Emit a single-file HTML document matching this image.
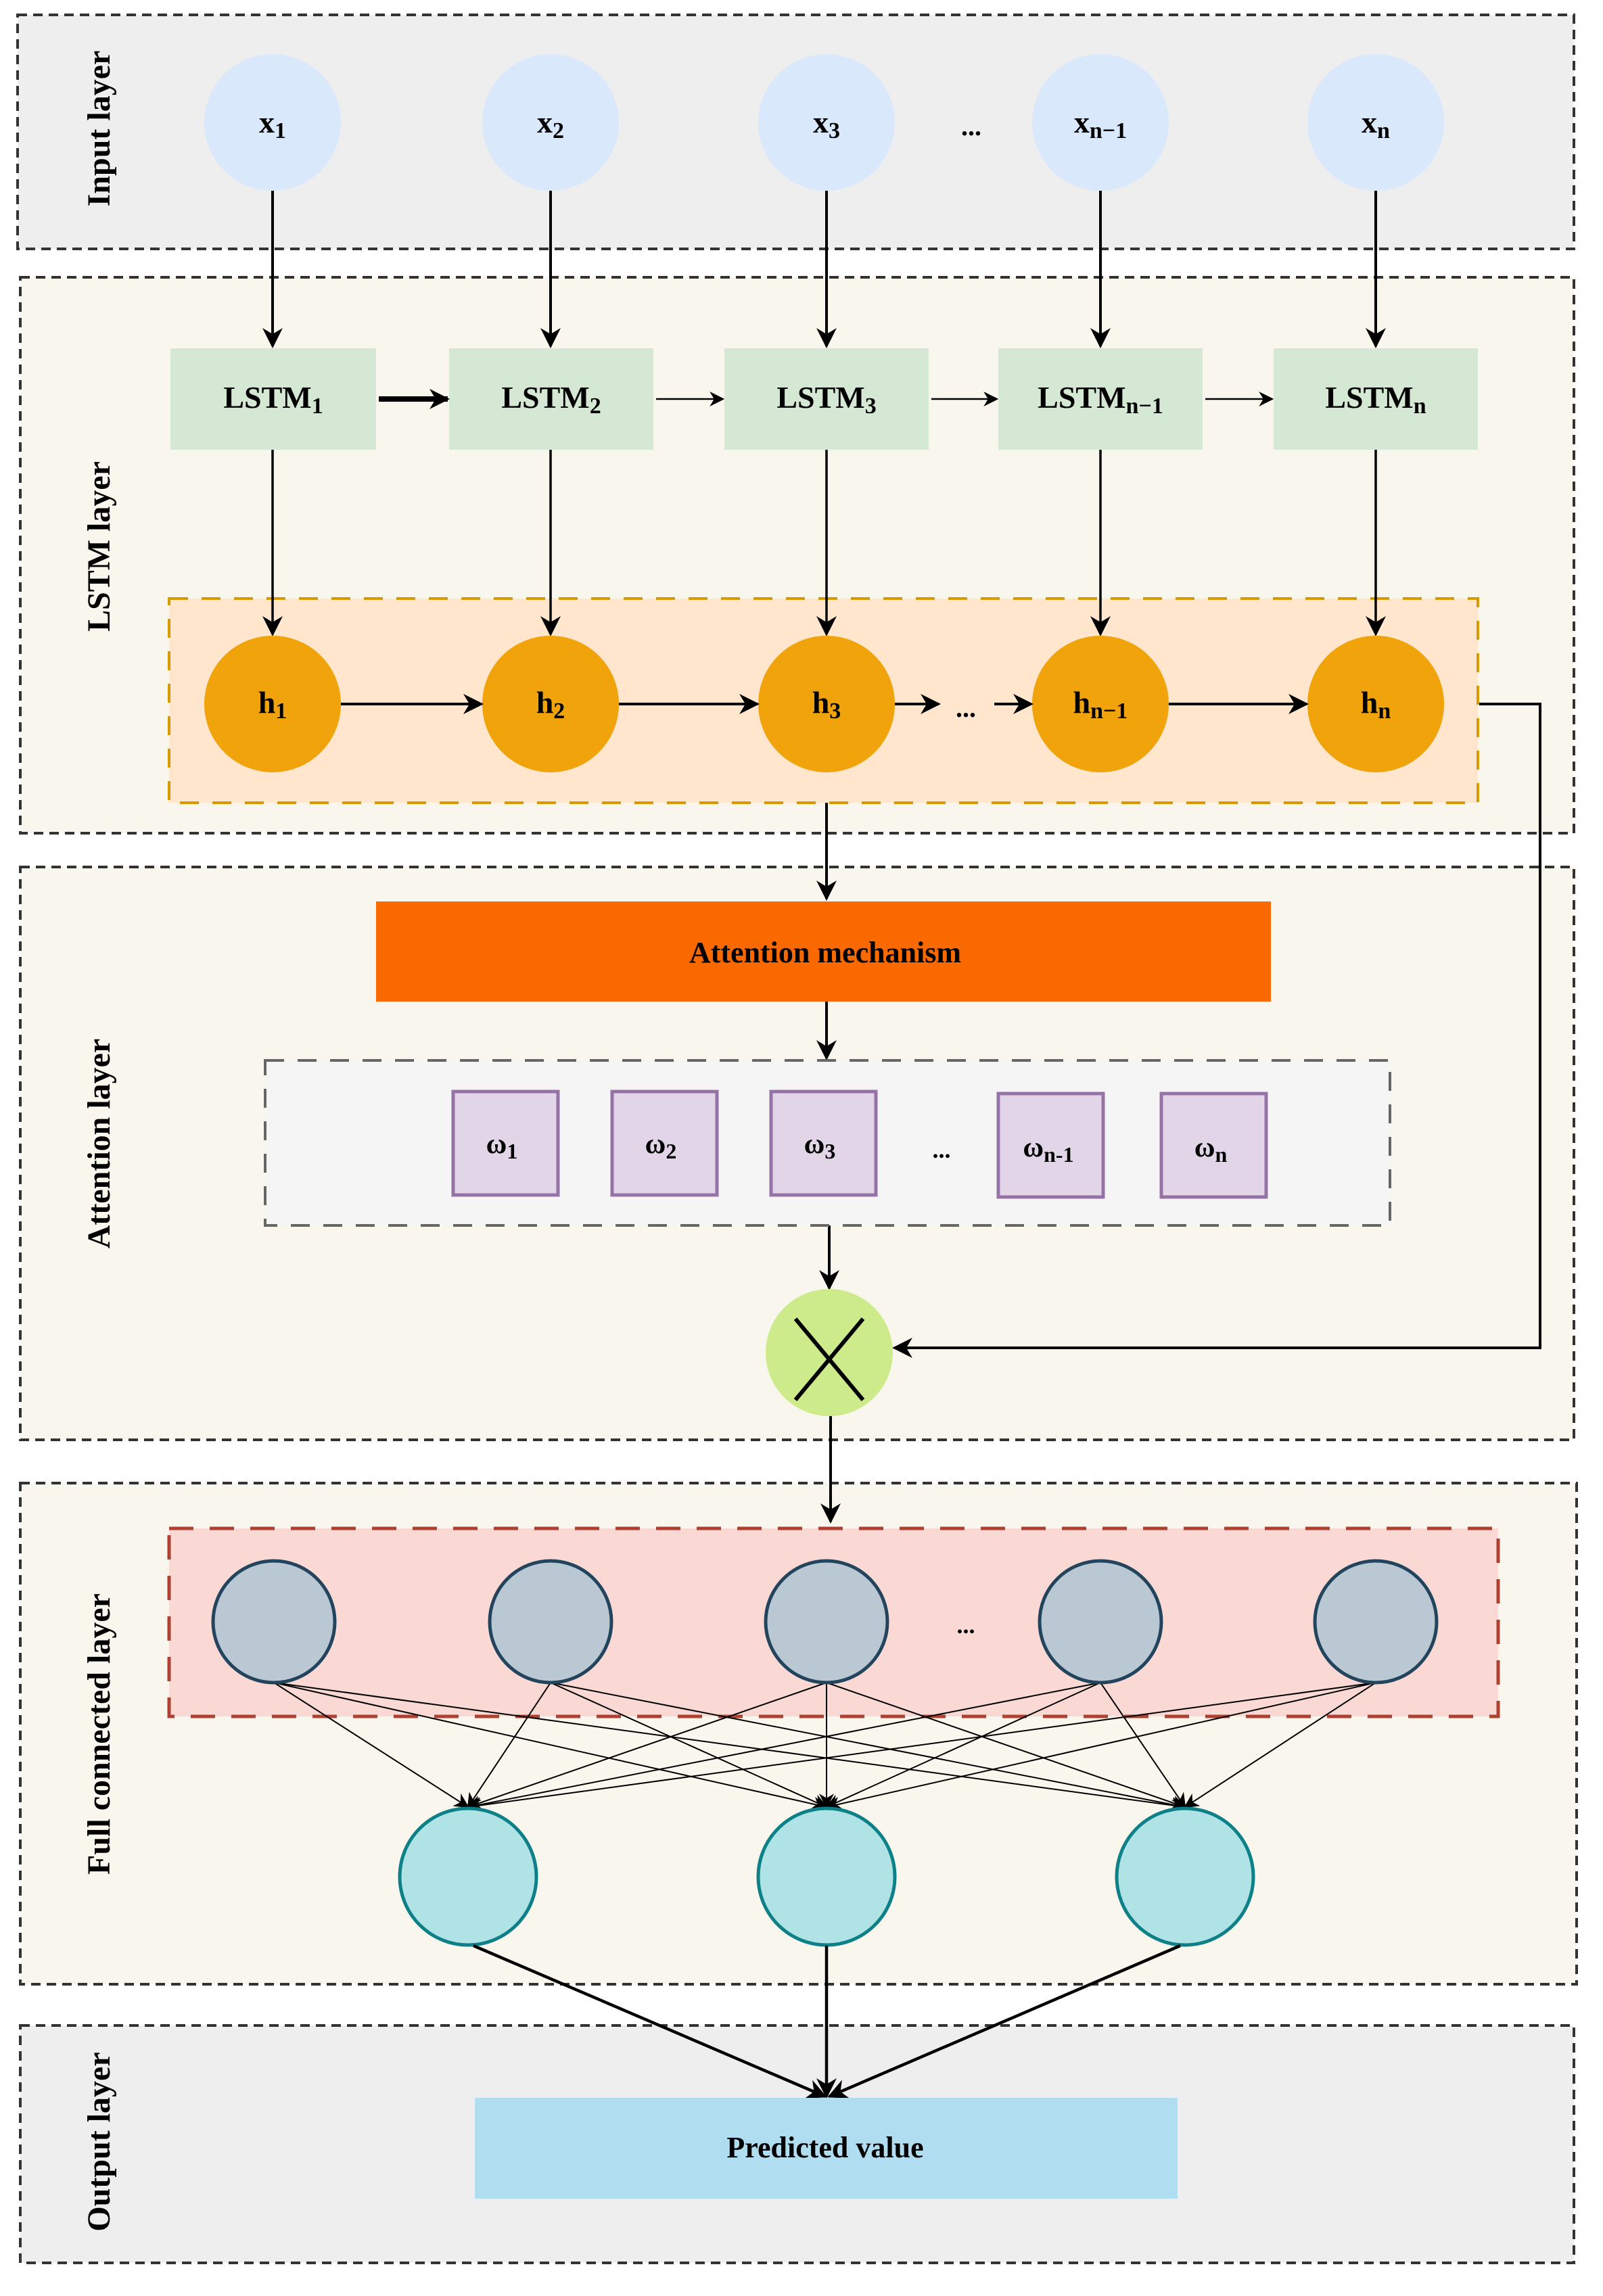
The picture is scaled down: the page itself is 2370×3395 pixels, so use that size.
<!DOCTYPE html>
<html><head><meta charset="utf-8"><style>body{margin:0;background:#fff}svg{display:block}text{font-family:"Liberation Serif",serif;font-weight:bold;fill:#000}</style></head><body>
<svg width="2370" height="3395" viewBox="0 0 2370 3395" xmlns="http://www.w3.org/2000/svg">
<defs>
<marker id="a" markerWidth="10" markerHeight="10" refX="9" refY="5" orient="auto" markerUnits="userSpaceOnUse" viewBox="0 0 10 10"><path d="M0,0 L10,5 L0,10 L3,5 z" fill="#000"/></marker>
<marker id="am" viewBox="0 0 10 10" refX="9" refY="5" markerWidth="30" markerHeight="30" orient="auto" markerUnits="userSpaceOnUse"><path d="M0,0 L10,5 L0,10 L3,5 z" fill="#000"/></marker>
<marker id="as" viewBox="0 0 10 10" refX="9" refY="5" markerWidth="22" markerHeight="22" orient="auto" markerUnits="userSpaceOnUse"><path d="M0,0 L10,5 L0,10 L3,5 z" fill="#000"/></marker>
</defs>
<g stroke="#333" stroke-width="4" stroke-dasharray="14 9">
<rect x="26" y="22" width="2301" height="346" fill="#eeeeee"/>
<rect x="30" y="410" width="2297" height="822" fill="#f9f7ed"/>
<rect x="30" y="1282" width="2297" height="847" fill="#f9f7ed"/>
<rect x="30" y="2193" width="2301" height="741" fill="#f9f7ed"/>
<rect x="30" y="2995" width="2297" height="351" fill="#eeeeee"/>
</g>
<g font-size="48" text-anchor="middle">
<text transform="translate(162,190) rotate(-90)">Input layer</text>
<text transform="translate(162,808) rotate(-90)">LSTM layer</text>
<text transform="translate(162,1691) rotate(-90)">Attention layer</text>
<text transform="translate(162,2564) rotate(-90)">Full connected layer</text>
<text transform="translate(162,3167) rotate(-90)">Output layer</text>
</g>
<!-- input circles -->
<g fill="#dae8fc">
<circle cx="403" cy="181" r="101"/><circle cx="814" cy="181" r="101"/><circle cx="1222" cy="181" r="101"/><circle cx="1627" cy="181" r="101"/><circle cx="2034" cy="181" r="101"/>
</g>
<g font-size="46" text-anchor="middle">
<text x="403" y="196">x<tspan font-size="34" dy="8">1</tspan></text>
<text x="814" y="196">x<tspan font-size="34" dy="8">2</tspan></text>
<text x="1222" y="196">x<tspan font-size="34" dy="8">3</tspan></text>
<text x="1627" y="196">x<tspan font-size="34" dy="8">n−1</tspan></text>
<text x="2034" y="196">x<tspan font-size="34" dy="8">n</tspan></text>
<text x="1436" y="200" font-size="40">...</text>
</g>
<!-- LSTM boxes -->
<g fill="#d5e8d4">
<rect x="252" y="515" width="304" height="150"/><rect x="664" y="515" width="302" height="150"/><rect x="1071" y="515" width="302" height="150"/><rect x="1476" y="515" width="302" height="150"/><rect x="1883" y="515" width="302" height="150"/>
</g>
<g font-size="46" text-anchor="middle">
<text x="404" y="603">LSTM<tspan font-size="34" dy="8">1</tspan></text>
<text x="815" y="603">LSTM<tspan font-size="34" dy="8">2</tspan></text>
<text x="1222" y="603">LSTM<tspan font-size="34" dy="8">3</tspan></text>
<text x="1627" y="603">LSTM<tspan font-size="34" dy="8">n−1</tspan></text>
<text x="2034" y="603">LSTM<tspan font-size="34" dy="8">n</tspan></text>
</g>
<g stroke="#000" stroke-width="4" fill="none">
<line x1="403" y1="282" x2="403" y2="512" marker-end="url(#am)"/>
<line x1="814" y1="282" x2="814" y2="512" marker-end="url(#am)"/>
<line x1="1222" y1="282" x2="1222" y2="512" marker-end="url(#am)"/>
<line x1="1627" y1="282" x2="1627" y2="512" marker-end="url(#am)"/>
<line x1="2034" y1="282" x2="2034" y2="512" marker-end="url(#am)"/>
<line x1="560" y1="590" x2="662" y2="590" stroke-width="8" marker-end="url(#am)"/>
<line x1="970" y1="590" x2="1069" y2="590" stroke-width="2.5" marker-end="url(#as)"/>
<line x1="1377" y1="590" x2="1474" y2="590" stroke-width="2.5" marker-end="url(#as)"/>
<line x1="1782" y1="590" x2="1881" y2="590" stroke-width="2.5" marker-end="url(#as)"/>
</g>
<!-- h box -->
<rect x="250" y="885" width="1935" height="302" fill="#ffe6cc" stroke="#d79b00" stroke-width="4" stroke-dasharray="28 20"/>
<g stroke="#000" stroke-width="3.5" fill="none">
<line x1="403" y1="665" x2="403" y2="938" marker-end="url(#am)"/>
<line x1="814" y1="665" x2="814" y2="938" marker-end="url(#am)"/>
<line x1="1222" y1="665" x2="1222" y2="938" marker-end="url(#am)"/>
<line x1="1627" y1="665" x2="1627" y2="938" marker-end="url(#am)"/>
<line x1="2034" y1="665" x2="2034" y2="938" marker-end="url(#am)"/>
</g>
<g fill="#f0a30a">
<circle cx="403" cy="1041" r="101"/><circle cx="814" cy="1041" r="101"/><circle cx="1222" cy="1041" r="101"/><circle cx="1627" cy="1041" r="101"/><circle cx="2034" cy="1041" r="101"/>
</g>
<g font-size="46" text-anchor="middle">
<text x="403" y="1054">h<tspan font-size="34" dy="8">1</tspan></text>
<text x="814" y="1054">h<tspan font-size="34" dy="8">2</tspan></text>
<text x="1222" y="1054">h<tspan font-size="34" dy="8">3</tspan></text>
<text x="1627" y="1054">h<tspan font-size="34" dy="8">n−1</tspan></text>
<text x="2034" y="1054">h<tspan font-size="34" dy="8">n</tspan></text>
<text x="1428" y="1060" font-size="40">...</text>
</g>
<g stroke="#000" stroke-width="4" fill="none">
<line x1="504" y1="1041" x2="712" y2="1041" marker-end="url(#am)"/>
<line x1="915" y1="1041" x2="1120" y2="1041" marker-end="url(#am)"/>
<line x1="1323" y1="1041" x2="1388" y2="1041" marker-end="url(#am)"/>
<line x1="1470" y1="1041" x2="1525" y2="1041" marker-end="url(#am)"/>
<line x1="1728" y1="1041" x2="1932" y2="1041" marker-end="url(#am)"/>
<polyline points="2187,1041 2277,1041 2277,1993 1322,1993" marker-end="url(#am)"/>
<line x1="1222" y1="1187" x2="1222" y2="1329" marker-end="url(#am)"/>
<line x1="1222" y1="1480" x2="1222" y2="1565" marker-end="url(#am)"/>
<line x1="1226" y1="1812" x2="1226" y2="1905" marker-end="url(#am)"/>
<line x1="1228" y1="2094" x2="1228" y2="2250" marker-end="url(#am)"/>
</g>
<rect x="556" y="1333" width="1323" height="148" fill="#fa6800"/>
<text x="1220" y="1423" font-size="44" text-anchor="middle">Attention mechanism</text>
<rect x="392" y="1568" width="1663" height="244" fill="#f5f5f5" stroke="#666" stroke-width="4" stroke-dasharray="28 20"/>
<g fill="#e1d5e7" stroke="#9673a6" stroke-width="5">
<rect x="670" y="1614" width="155" height="153"/><rect x="905" y="1614" width="155" height="153"/><rect x="1140" y="1614" width="155" height="153"/><rect x="1476" y="1617" width="155" height="153"/><rect x="1717" y="1617" width="155" height="153"/>
</g>
<g font-size="42" text-anchor="middle">
<text x="742" y="1705">ω<tspan font-size="32" dy="8">1</tspan></text>
<text x="977" y="1705">ω<tspan font-size="32" dy="8">2</tspan></text>
<text x="1212" y="1705">ω<tspan font-size="32" dy="8">3</tspan></text>
<text x="1550" y="1710">ω<tspan font-size="32" dy="8">n-1</tspan></text>
<text x="1790" y="1710">ω<tspan font-size="32" dy="8">n</tspan></text>
<text x="1392" y="1712" font-size="36">...</text>
</g>
<circle cx="1226" cy="2000" r="94" fill="#cdeb8b"/>
<g stroke="#000" stroke-width="6"><line x1="1176" y1="1950" x2="1276" y2="2070"/><line x1="1276" y1="1950" x2="1176" y2="2070"/></g>
<!-- FC -->
<rect x="250" y="2260" width="1965" height="278" fill="#fad9d5" stroke="#ae4132" stroke-width="5" stroke-dasharray="36 24"/>
<g stroke="#000" stroke-width="2" fill="none">
<line x1="405" y1="2488" x2="692" y2="2672" marker-end="url(#as)"/><line x1="405" y1="2488" x2="1222" y2="2672" marker-end="url(#as)"/><line x1="405" y1="2488" x2="1752" y2="2672" marker-end="url(#as)"/>
<line x1="814" y1="2488" x2="692" y2="2672" marker-end="url(#as)"/><line x1="814" y1="2488" x2="1222" y2="2672" marker-end="url(#as)"/><line x1="814" y1="2488" x2="1752" y2="2672" marker-end="url(#as)"/>
<line x1="1222" y1="2488" x2="692" y2="2672" marker-end="url(#as)"/><line x1="1222" y1="2488" x2="1222" y2="2672" marker-end="url(#as)"/><line x1="1222" y1="2488" x2="1752" y2="2672" marker-end="url(#as)"/>
<line x1="1627" y1="2488" x2="692" y2="2672" marker-end="url(#as)"/><line x1="1627" y1="2488" x2="1222" y2="2672" marker-end="url(#as)"/><line x1="1627" y1="2488" x2="1752" y2="2672" marker-end="url(#as)"/>
<line x1="2034" y1="2488" x2="692" y2="2672" marker-end="url(#as)"/><line x1="2034" y1="2488" x2="1222" y2="2672" marker-end="url(#as)"/><line x1="2034" y1="2488" x2="1752" y2="2672" marker-end="url(#as)"/>
</g>
<g fill="#bac8d3" stroke="#23445d" stroke-width="5">
<circle cx="405" cy="2398" r="90"/><circle cx="814" cy="2398" r="90"/><circle cx="1222" cy="2398" r="90"/><circle cx="1627" cy="2398" r="90"/><circle cx="2034" cy="2398" r="90"/>
</g>
<text x="1428" y="2415" font-size="36" text-anchor="middle">...</text>
<g fill="#b0e3e6" stroke="#0e8088" stroke-width="5">
<circle cx="692" cy="2775" r="101"/><circle cx="1222" cy="2775" r="101"/><circle cx="1752" cy="2775" r="101"/>
</g>
<g stroke="#000" stroke-width="4.5" fill="none">
<line x1="700" y1="2877" x2="1220" y2="3100" marker-end="url(#am)"/>
<line x1="1222" y1="2877" x2="1222" y2="3100" marker-end="url(#am)"/>
<line x1="1745" y1="2877" x2="1226" y2="3100" marker-end="url(#am)"/>
</g>
<rect x="702" y="3102" width="1039" height="149" fill="#b1ddf0"/>
<text x="1220" y="3190" font-size="44" text-anchor="middle">Predicted value</text>
</svg>
</body></html>
